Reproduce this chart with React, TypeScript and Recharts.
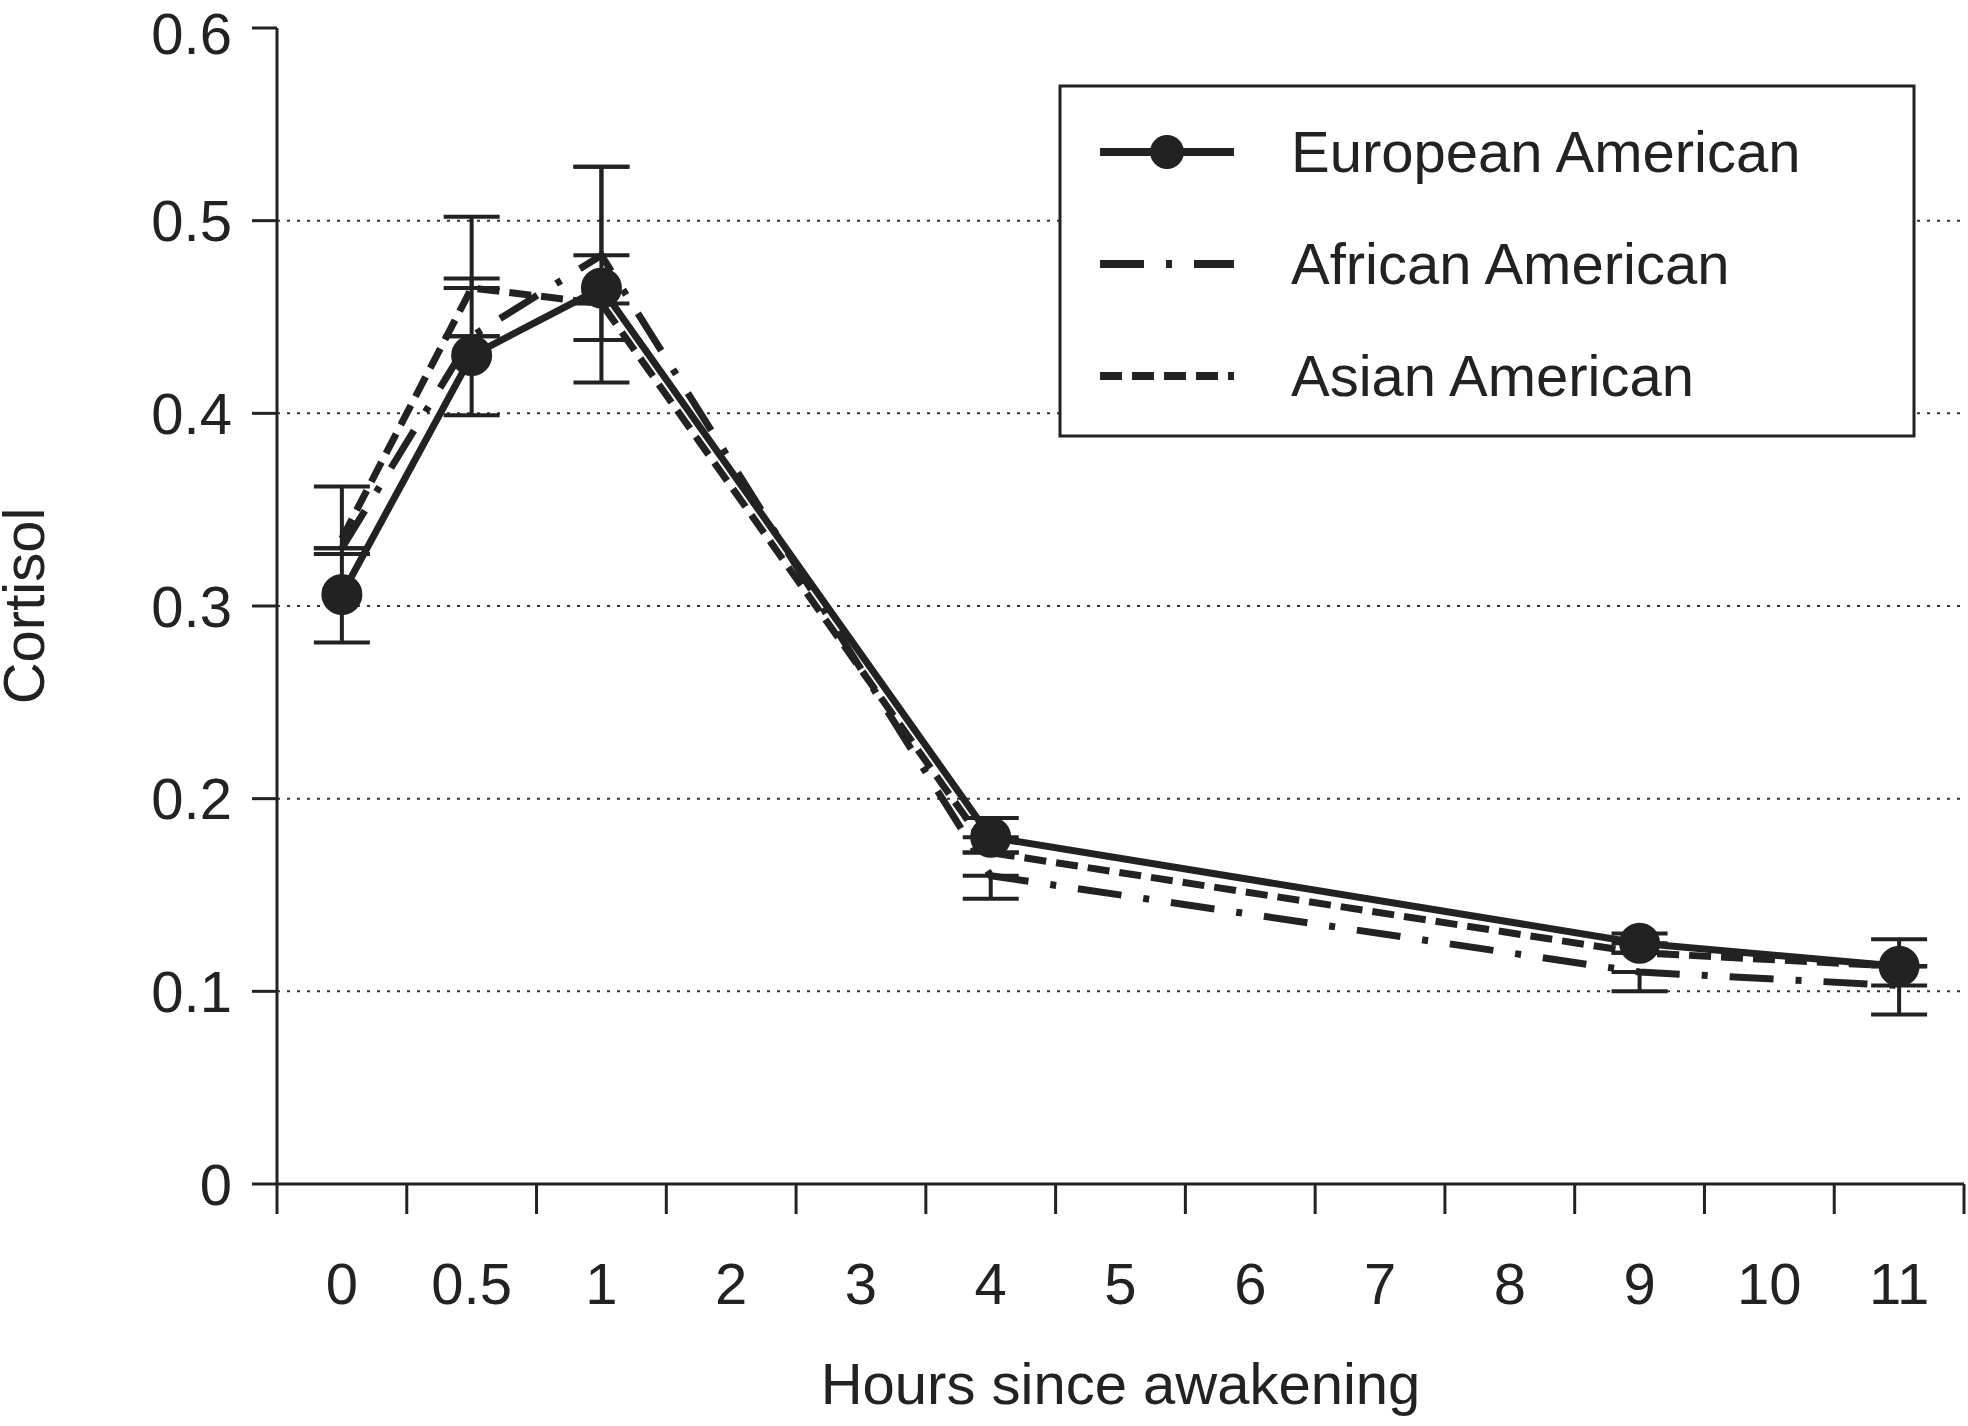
import React from "react";
import { LineChart, Line, XAxis, YAxis, CartesianGrid, ErrorBar } from "recharts";

const categories = ["0", "0.5", "1", "2", "3", "4", "5", "6", "7", "8", "9", "10", "11"];
const european = [0.306, 0.43, 0.465, null, null, 0.18, null, null, null, null, 0.125, null, 0.113];
const african = [0.33, 0.44, 0.482, null, null, 0.16, null, null, null, null, 0.11, null, 0.103];
const asian = [0.335, 0.465, 0.457, null, null, 0.172, null, null, null, null, 0.12, null, 0.113];
const europeanErr = [[0.025, 0.021], [0.031, 0.04], [0.049, 0.063], null, null, [0.0, 0.01], null, null, null, null, [0.0, 0.005], null, [0.0, 0.014]];
const africanErr = [[0.0, 0.0], [0.0, 0.0], [0.0, 0.046], null, null, [0.012, 0.0], null, null, null, null, [0.01, 0.0], null, [0.015, 0.0]];
const asianErr = [[0.008, 0.027], [0.0, 0.037], [0.019, 0.0], null, null, [0.0, 0.0], null, null, null, null, [0.0, 0.0], null, [0.0, 0.0]];
const yTicks = [0, 0.1, 0.2, 0.3, 0.4, 0.5, 0.6];
const gridLevels = [0.1, 0.2, 0.3, 0.4, 0.5];

const data = categories.map((c, i) => ({
  x: i,
  eu: european[i],
  af: african[i],
  as: asian[i],
  euErr: europeanErr[i],
  afErr: africanErr[i],
  asErr: asianErr[i],
}));

const FONT = "'Liberation Sans', Arial, sans-serif";
const W = 1968;
const H = 1426;
const LEFT = 277;
const RIGHT = 1964;
const TOP = 28;
const BOTTOM = 1184;
const BAND = (RIGHT - LEFT) / categories.length;
const bounds = categories.map((_, i) => i - 0.5).concat([categories.length - 0.5]);

function XTick(props: any) {
  const { x, y, index } = props;
  const label = categories[index];
  return (
    <g>
      <line x1={x} x2={x} y1={y - 8} y2={y + 22} stroke="#222" strokeWidth={3} />
      {label !== undefined && (
        <text x={x + BAND / 2} y={y + 112} textAnchor="middle" fontSize={58} fill="#222" fontFamily={FONT}>
          {label}
        </text>
      )}
    </g>
  );
}

function YLabel() {
  const cy = (TOP + BOTTOM) / 2;
  return (
    <text x={44} y={cy} transform={`rotate(-90 44 ${cy})`} textAnchor="middle" fontSize={58} fill="#222" fontFamily={FONT}>
      Cortisol
    </text>
  );
}

function LegendBox() {
  const rows = [
    { name: "European American", dash: undefined, dot: true },
    { name: "African American", dash: "44 22 6 22", dot: false },
    { name: "Asian American", dash: "22 10", dot: false },
  ];
  return (
    <svg width={858} height={354} style={{ display: "block" }}>
      <rect x={2} y={2} width={854} height={350} fill="#fff" stroke="#222" strokeWidth={3} />
      {rows.map((r, i) => {
        const cy = 68 + i * 112;
        return (
          <g key={r.name}>
            <line x1={42} x2={176} y1={cy} y2={cy} stroke="#222" strokeWidth={8} strokeDasharray={r.dash} />
            {r.dot && <circle cx={109} cy={cy} r={17} fill="#222" />}
            <text x={233} y={cy + 20} fontSize={58} fill="#222" fontFamily={FONT}>
              {r.name}
            </text>
          </g>
        );
      })}
    </svg>
  );
}

export default function App() {
  return (
    <div style={{ position: "absolute", left: 0, top: 0, width: W, height: H, background: "#fff" }}>
      <LineChart width={W} height={H} data={data} margin={{ top: TOP, right: W - RIGHT, left: 0, bottom: 0 }}>
        <CartesianGrid
          horizontal
          vertical={false}
          horizontalValues={gridLevels}
          stroke="#333"
          strokeDasharray="3 7"
          strokeWidth={2}
        />
        <XAxis
          dataKey="x"
          type="number"
          domain={[-0.5, categories.length - 0.5]}
          ticks={bounds}
          interval={0}
          height={H - BOTTOM}
          axisLine={{ stroke: "#222", strokeWidth: 3 }}
          tickLine={false}
          tick={<XTick />}
          label={{ value: "Hours since awakening", position: "insideBottom", offset: 22, fontSize: 58, fill: "#222", fontFamily: FONT }}
        />
        <XAxis xAxisId="top" orientation="top" dataKey="x" type="number" domain={[-0.5, 12.5]} height={0} tick={false} tickLine={false} axisLine={{ stroke: "#999", strokeWidth: 3 }} />
        <YAxis
          domain={[0, 0.6]}
          ticks={yTicks}
          width={LEFT}
          axisLine={{ stroke: "#222", strokeWidth: 3 }}
          tickLine={{ stroke: "#222", strokeWidth: 3 }}
          tickSize={25}
          tick={{ fontSize: 58, fill: "#222", fontFamily: FONT, dx: -18 }}
          label={<YLabel />}
        />
        <YAxis yAxisId="right" orientation="right" domain={[0, 0.6]} width={0} tick={false} tickLine={false} axisLine={{ stroke: "#999", strokeWidth: 3 }} />
        <Line dataKey="as" type="linear" connectNulls stroke="#222" strokeWidth={7} strokeDasharray="22 10" dot={false} isAnimationActive={false}>
          <ErrorBar dataKey="asErr" width={28} stroke="#222" strokeWidth={4} />
        </Line>
        <Line dataKey="af" type="linear" connectNulls stroke="#222" strokeWidth={7} strokeDasharray="44 22 6 22" dot={false} isAnimationActive={false}>
          <ErrorBar dataKey="afErr" width={28} stroke="#222" strokeWidth={4} />
        </Line>
        <Line dataKey="eu" type="linear" connectNulls stroke="#222" strokeWidth={7} dot={{ r: 17, fill: "#222", stroke: "#222" }} isAnimationActive={false}>
          <ErrorBar dataKey="euErr" width={28} stroke="#222" strokeWidth={4} />
        </Line>
      </LineChart>
      <div style={{ position: "absolute", left: 1058, top: 84 }}>
        <LegendBox />
      </div>
    </div>
  );
}
